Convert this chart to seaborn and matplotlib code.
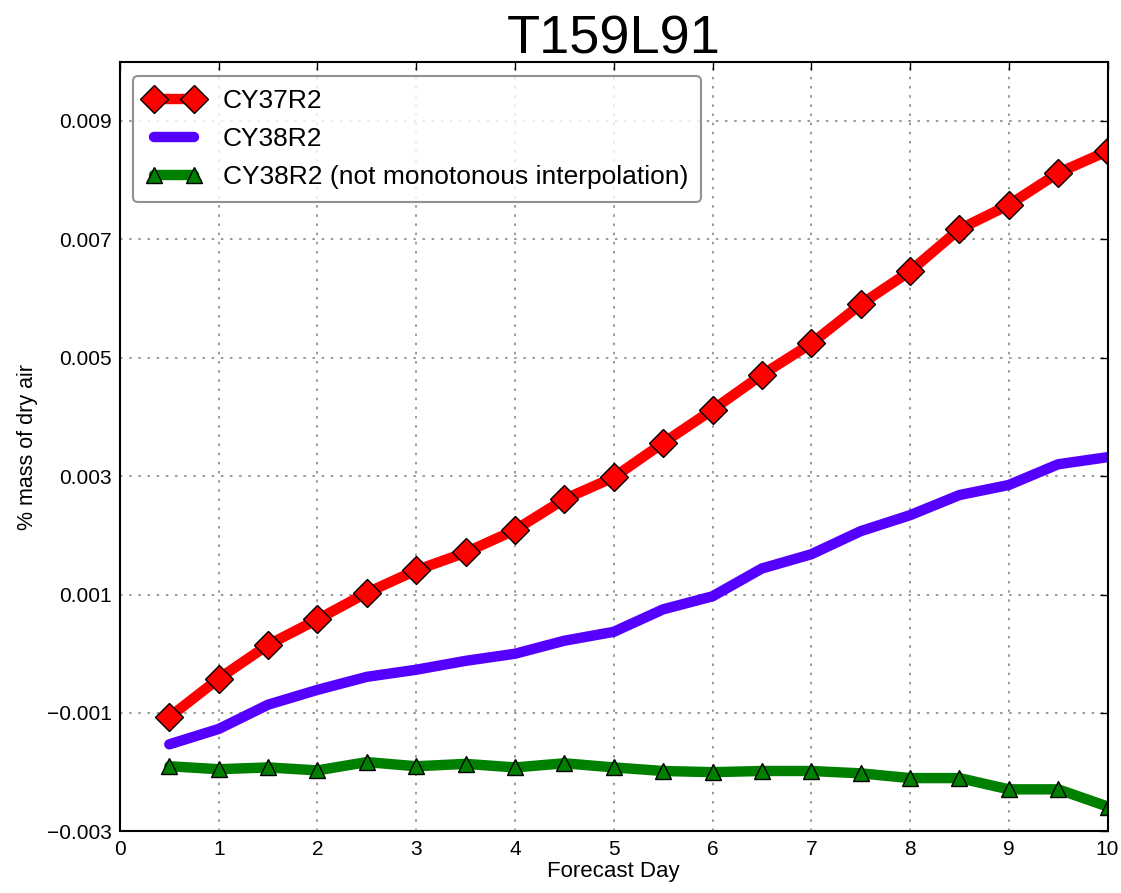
import pandas as pd
import numpy as np
import matplotlib
matplotlib.use("Agg")
import matplotlib.pyplot as plt
import seaborn as sns

# forecast days (every half day)
days = [0.5, 1.0, 1.5, 2.0, 2.5, 3.0, 3.5, 4.0, 4.5, 5.0,
        5.5, 6.0, 6.5, 7.0, 7.5, 8.0, 8.5, 9.0, 9.5, 10.0]

# % mass of dry air
cy37r2 = [-0.00107, -0.00042, 0.00015, 0.00058, 0.00103, 0.00141, 0.00171, 0.00209, 0.00261, 0.00298,
          0.00356, 0.00412, 0.00471, 0.00524, 0.00590, 0.00646, 0.00717, 0.00758, 0.00812, 0.00849]
cy38r2 = [-0.00153, -0.00127, -0.00086, -0.00061, -0.00039, -0.00027, -0.00012, 0.00000, 0.00022, 0.00037,
          0.00075, 0.00097, 0.00144, 0.00168, 0.00207, 0.00234, 0.00268, 0.00285, 0.00320, 0.00332]
cy38r2_nm = [-0.00190, -0.00195, -0.00192, -0.00197, -0.00183, -0.00190, -0.00186, -0.00192, -0.00185, -0.00192,
             -0.00198, -0.00200, -0.00198, -0.00198, -0.00202, -0.00210, -0.00210, -0.00229, -0.00229, -0.00258]

names = ["CY37R2", "CY38R2", "CY38R2 (not monotonous interpolation)"]

df = pd.DataFrame({
    "day": days * 3,
    "value": cy37r2 + cy38r2 + cy38r2_nm,
    "run": [names[0]] * len(days) + [names[1]] * len(days) + [names[2]] * len(days),
})

sns.set_style("white")
plt.rcParams["font.family"] = ["Liberation Sans", "DejaVu Sans"]
plt.rcParams["text.color"] = "black"
plt.rcParams["axes.labelcolor"] = "black"
plt.rcParams["xtick.color"] = "black"
plt.rcParams["ytick.color"] = "black"

fig = plt.figure(figsize=(11.21, 8.93), dpi=100)
ax = fig.add_axes([0.107, 0.069, 0.881, 0.862])

colors = {names[0]: "#ff0000", names[1]: "#5500ff", names[2]: "#008000"}
markers = {names[0]: "D", names[1]: "+", names[2]: "^"}
msizes = {names[0]: 14, names[1]: 6, names[2]: 12}

for name in names:
    sub = df[df["run"] == name]
    sns.lineplot(data=sub, x="day", y="value", ax=ax, color=colors[name], linewidth=7.5,
                 marker=markers[name], markersize=msizes[name],
                 markeredgecolor="black" if name != names[1] else colors[name],
                 markeredgewidth=1, label=name)

ax.set_xlim(0, 10)
ax.set_ylim(-0.003, 0.010)
ax.set_xticks(range(0, 11))
ax.set_yticks([-0.003, -0.001, 0.001, 0.003, 0.005, 0.007, 0.009])
ax.set_yticklabels(["\u22120.003", "\u22120.001", "0.001", "0.003", "0.005", "0.007", "0.009"])
ax.tick_params(direction="in", length=6, width=1, labelsize=15, top=True, right=True, pad=6)
ax.grid(True, linestyle=(0, (1.5, 4)), color="#888888", linewidth=1.2)
for s in ax.spines.values():
    s.set_color("black")
    s.set_linewidth(1.5)

ax.set_xlabel("Forecast Day", fontsize=16, labelpad=2)
ax.set_ylabel("% mass of dry air", fontsize=15.5, labelpad=6)
ax.set_title("T159L91", fontsize=39, pad=6)

leg = ax.legend(loc="upper left", fontsize=19, frameon=True, fancybox=True, numpoints=2,
                handlelength=2.1, handletextpad=0.8, borderpad=0.5, labelspacing=0.54,
                bbox_to_anchor=(0.0, 0.999))
leg.get_frame().set_edgecolor("#777777")
leg.get_frame().set_linewidth(1.5)

fig.savefig("out.png", dpi=100)
